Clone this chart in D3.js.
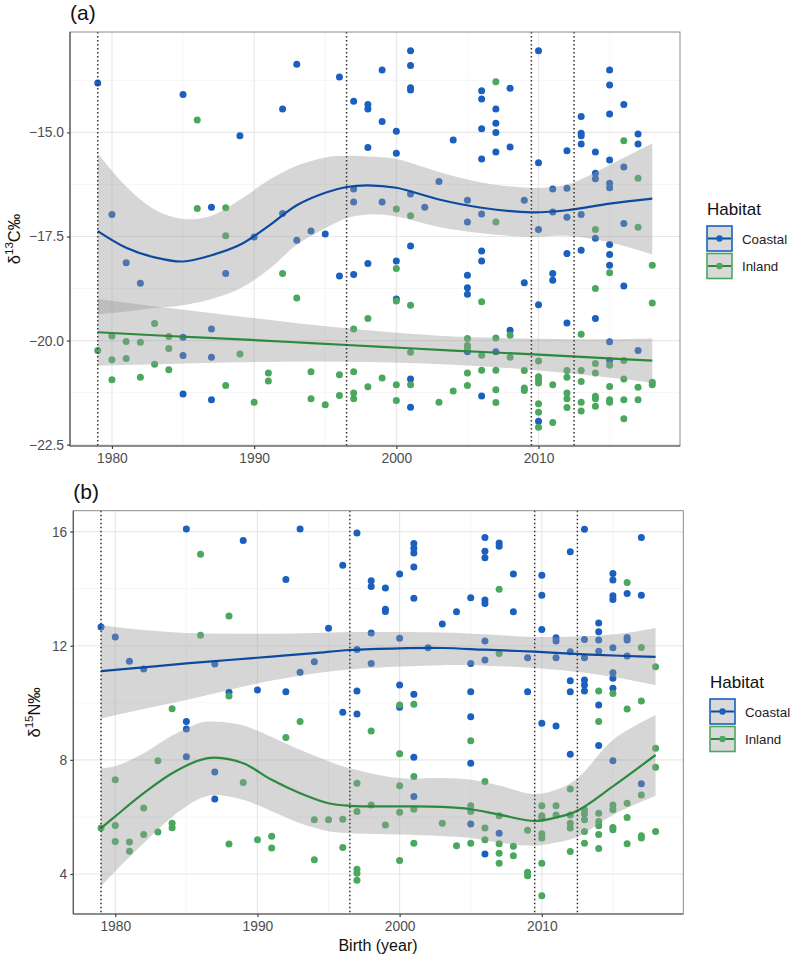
<!DOCTYPE html>
<html>
<head>
<meta charset="utf-8">
<title>Isotopes by birth year</title>
<script src="https://cdn.jsdelivr.net/npm/d3@7"></script>
<style>
  body { margin: 0; background: #fff; }
  svg { display: block; font-family: "Liberation Sans", Arial, sans-serif; }
</style>
</head>
<body>
<script>
// ---- data: [birth year, value] ----
var coastalC = [[1979,-13.81],[1980,-16.97],[1981,-18.13],[1982,-18.62],
  [1985,-14.09],[1985,-19.92],[1985,-20.36],[1985,-21.28],
  [1987,-16.80],[1987,-19.72],[1987,-20.40],[1987,-21.42],
  [1988,-18.39],[1989,-15.08],[1990,-17.51],[1992,-14.44],[1992,-16.95],
  [1993,-13.36],[1993,-17.59],[1994,-17.37],[1995,-17.44],[1996,-13.67],[1996,-18.45],
  [1997,-14.25],[1997,-16.36],[1997,-16.67],[1997,-18.41],
  [1998,-14.33],[1998,-14.44],[1998,-15.36],[1998,-18.15],
  [1999,-13.50],[1999,-14.74],[1999,-16.67],
  [2000,-14.97],[2000,-15.50],[2000,-18.09],[2000,-19.0],
  [2001,-13.04],[2001,-13.39],[2001,-13.93],[2001,-13.98],[2001,-16.48],[2001,-17.73],[2001,-20.92],[2001,-21.60],
  [2002,-16.80],[2003,-16.18],[2004,-15.18],
  [2005,-16.63],[2005,-17.15],[2005,-18.43],[2005,-18.73],[2005,-18.89],[2005,-20.27],
  [2006,-14.0],[2006,-14.2],[2006,-14.91],[2006,-15.64],[2006,-16.96],[2006,-17.85],[2006,-18.09],[2006,-21.33],
  [2007,-14.44],[2007,-14.78],[2007,-15.0],[2007,-15.47],[2007,-20.27],
  [2008,-13.94],[2008,-15.35],[2008,-19.75],[2009,-16.63],[2009,-18.61],
  [2010,-13.04],[2010,-15.73],[2010,-17.33],[2010,-19.14],[2010,-21.94],
  [2011,-16.36],[2011,-16.91],[2011,-18.39],[2011,-18.55],
  [2012,-15.44],[2012,-16.34],[2012,-17.04],[2012,-17.91],[2012,-19.58],
  [2013,-14.62],[2013,-15.02],[2013,-15.08],[2013,-15.28],[2013,-16.97],[2013,-17.83],
  [2014,-15.47],[2014,-15.98],[2014,-16.11],[2014,-17.54],[2014,-19.47],
  [2015,-13.50],[2015,-13.86],[2015,-14.56],[2015,-15.66],[2015,-16.22],[2015,-16.33],[2015,-17.69],
  [2015,-17.93],[2015,-18.19],[2015,-20.03],[2015,-20.48],
  [2016,-14.33],[2016,-15.83],[2016,-17.19],[2016,-18.69],
  [2017,-15.04],[2017,-15.28],[2017,-20.24]];

var inlandC = [[1979,-20.24],[1980,-19.89],[1980,-20.46],[1980,-20.94],[1981,-20.02],[1981,-20.43],
  [1982,-20.04],[1982,-20.88],[1983,-19.59],[1983,-20.57],[1984,-19.90],[1984,-20.19],[1984,-20.70],
  [1986,-14.70],[1986,-16.83],[1988,-16.81],[1988,-17.48],[1988,-21.08],[1989,-20.32],[1990,-21.48],
  [1991,-20.78],[1991,-20.97],[1992,-18.39],[1993,-18.98],[1994,-20.75],[1994,-21.40],[1995,-21.54],
  [1996,-20.82],[1996,-21.32],[1997,-19.72],[1997,-20.75],[1997,-21.26],[1997,-21.40],
  [1998,-19.47],[1998,-21.11],[1999,-20.90],
  [2000,-16.84],[2000,-18.27],[2000,-19.05],[2000,-21.06],[2000,-21.44],
  [2001,-17.0],[2001,-19.15],[2001,-20.28],[2001,-21.06],[2003,-21.48],[2004,-21.21],
  [2005,-19.95],[2005,-20.12],[2005,-20.19],[2005,-20.78],[2005,-21.08],
  [2006,-19.07],[2006,-20.35],[2006,-20.71],
  [2007,-13.78],[2007,-17.15],[2007,-19.94],[2007,-20.71],[2007,-21.18],[2007,-21.49],
  [2008,-19.87],[2008,-20.40],[2009,-20.72],[2009,-21.14],[2009,-21.20],
  [2010,-20.49],[2010,-20.87],[2010,-20.94],[2010,-21.02],[2010,-21.52],[2010,-21.72],[2010,-22.08],
  [2011,-21.06],[2011,-21.97],
  [2012,-20.72],[2012,-20.88],[2012,-21.26],[2012,-21.40],[2012,-21.61],
  [2013,-19.85],[2013,-20.72],[2013,-20.98],[2013,-21.48],[2013,-21.69],
  [2014,-17.33],[2014,-18.75],[2014,-20.55],[2014,-20.78],[2014,-21.34],[2014,-21.40],[2014,-21.58],
  [2015,-18.37],[2015,-20.59],[2015,-21.10],[2015,-21.42],[2015,-21.48],
  [2016,-15.20],[2016,-20.48],[2016,-20.92],[2016,-21.42],[2016,-21.88],
  [2017,-16.10],[2017,-17.28],[2017,-21.12],[2017,-21.42],
  [2018,-18.19],[2018,-19.10],[2018,-21.0],[2018,-21.06]];

var coastalN = [[1979,12.66],[1980,12.31],[1981,11.46],[1982,11.18],
  [1985,16.09],[1985,9.34],[1985,9.08],[1985,8.11],[1987,11.36],[1987,7.57],[1987,6.63],
  [1988,10.37],[1989,15.69],[1990,10.45],[1992,14.32],[1992,10.39],[1993,16.09],[1993,11.07],
  [1994,11.44],[1995,12.61],[1996,14.82],[1996,9.67],
  [1997,15.95],[1997,11.87],[1997,10.41],[1997,9.61],
  [1998,14.28],[1998,14.08],[1998,12.45],[1998,11.38],[1999,14.02],[1999,13.28],[1999,13.2],
  [2000,14.51],[2000,12.26],[2000,10.62],[2000,9.84],
  [2001,15.58],[2001,15.42],[2001,15.25],[2001,14.76],[2001,13.66],[2001,10.30],[2001,8.09],[2001,6.72],
  [2002,11.93],[2003,12.76],[2004,13.19],
  [2005,13.68],[2005,11.38],[2005,10.39],[2005,9.51],[2005,7.88],[2005,5.75],
  [2006,15.79],[2006,15.31],[2006,15.08],[2006,13.60],[2006,13.48],[2006,12.17],[2006,11.50],[2006,4.70],
  [2007,15.6],[2007,15.49],[2007,5.43],[2008,14.51],[2008,13.19],[2009,11.58],[2009,10.39],
  [2010,14.47],[2010,13.77],[2010,12.57],[2010,9.28],
  [2011,12.28],[2011,12.17],[2011,11.58],[2011,9.19],
  [2012,15.29],[2012,11.79],[2012,10.77],[2012,10.39],[2012,8.20],
  [2013,16.08],[2013,12.22],[2013,11.58],[2013,10.80],[2013,10.62],[2013,10.41],
  [2014,12.80],[2014,12.49],[2014,12.20],[2014,11.81],[2014,9.92],[2014,8.50],
  [2015,14.53],[2015,14.30],[2015,13.75],[2015,13.62],[2015,11.93],[2015,11.05],[2015,10.86],[2015,10.51],[2015,7.97],
  [2016,13.83],[2016,12.29],[2016,12.20],[2016,11.64],
  [2017,15.79],[2017,13.77],[2017,7.16]];

var inlandN = [[1979,5.61],[1980,7.30],[1980,5.70],[1980,5.14],[1981,5.12],[1981,4.80],
  [1982,6.31],[1982,5.38],[1983,7.97],[1983,5.47],[1984,9.79],[1984,5.78],[1984,5.62],
  [1986,15.21],[1986,12.37],[1988,13.04],[1988,10.24],[1988,5.05],[1989,7.21],[1990,5.20],
  [1991,5.32],[1991,4.91],[1992,8.78],[1993,9.34],[1994,5.90],[1994,4.50],[1995,5.90],
  [1996,5.92],[1996,4.93],[1997,7.18],[1997,6.19],[1997,4.17],[1997,4.03],[1997,3.78],
  [1998,9.01],[1998,6.42],[1999,5.72],
  [2000,9.92],[2000,8.21],[2000,7.09],[2000,6.16],[2000,4.47],
  [2001,9.95],[2001,7.42],[2001,6.27],[2001,5.08],[2003,5.78],[2004,4.99],
  [2005,8.67],[2005,6.39],[2005,6.19],[2005,5.08],[2006,7.24],[2006,5.61],[2006,5.20],
  [2007,13.98],[2007,11.73],[2007,6.04],[2007,5.06],[2007,4.73],[2007,4.38],
  [2008,4.97],[2008,4.64],[2009,5.53],[2009,4.06],[2009,3.94],
  [2010,6.39],[2010,6.04],[2010,5.96],[2010,5.41],[2010,5.26],[2010,4.38],[2010,3.24],
  [2011,6.39],[2011,6.07],[2012,6.98],[2012,6.07],[2012,5.78],[2012,5.61],[2012,4.79],
  [2013,6.25],[2013,6.11],[2013,5.90],[2013,5.49],[2013,5.08],
  [2014,10.41],[2014,9.34],[2014,6.13],[2014,5.84],[2014,5.69],[2014,5.38],[2014,4.89],
  [2015,10.33],[2015,6.42],[2015,6.25],[2015,5.63],[2015,5.55],
  [2016,14.22],[2016,9.78],[2016,6.48],[2016,5.98],[2016,5.06],
  [2017,11.94],[2017,10.06],[2017,6.77],[2017,5.34],[2017,5.26],
  [2018,11.26],[2018,8.41],[2018,7.74],[2018,5.49]];

// smoother fits (line, lower, upper)
var fitYearsCoastalC = [1979,1981,1983,1985,1987,1989,1991,1993,1995,1996.5,1998,2000,2003,2006,2009.5,2012,2015,2018];
var fitCoastalC  = [-17.37,-17.77,-18.0,-18.1,-17.95,-17.7,-17.25,-16.75,-16.45,-16.31,-16.27,-16.33,-16.61,-16.81,-16.92,-16.87,-16.71,-16.59];
var lowCoastalC  = [-19.37,-19.3,-19.22,-19.15,-19.0,-18.75,-18.3,-17.7,-17.3,-17.06,-16.97,-17.02,-17.27,-17.42,-17.51,-17.48,-17.64,-17.93];
var highCoastalC = [-15.5,-16.3,-16.85,-17.08,-17.0,-16.62,-16.15,-15.8,-15.6,-15.56,-15.58,-15.64,-15.95,-16.2,-16.33,-16.25,-15.78,-15.26];

var fitYearsInlandC = [1979,1984,1989,1994,1999,2004,2009,2014,2018];
var fitInlandC  = [-19.80,-19.89,-19.97,-20.06,-20.15,-20.24,-20.32,-20.41,-20.48];
var lowInlandC  = [-20.60,-20.56,-20.52,-20.50,-20.52,-20.58,-20.69,-20.85,-21.01];
var highInlandC = [-19.00,-19.22,-19.42,-19.62,-19.78,-19.90,-19.95,-19.97,-19.95];

var fitYearsCoastalN = [1979,1982,1985,1988,1991,1994,1996.5,2000,2003,2006,2009.5,2013,2016,2018];
var fitCoastalN  = [11.11,11.24,11.38,11.5,11.62,11.74,11.85,11.91,11.92,11.86,11.79,11.70,11.64,11.61];
var lowCoastalN  = [9.45,9.78,10.1,10.45,10.78,11.03,11.17,11.27,11.32,11.3,11.22,11.05,10.82,10.62];
var highCoastalN = [12.72,12.55,12.45,12.42,12.42,12.45,12.48,12.48,12.46,12.4,12.31,12.33,12.45,12.62];

var fitYearsInlandN = [1979,1980,1982,1984,1986,1987,1989,1991,1993,1995,1996.5,2000,2003,2005,2007,2009.5,2011,2012.5,2015,2018];
var fitInlandN  = [5.61,6.02,6.83,7.53,8.0,8.08,7.88,7.30,6.83,6.48,6.39,6.37,6.35,6.27,6.08,5.86,5.98,6.22,7.07,8.17];
var lowInlandN  = [3.57,4.1,5.08,6.0,6.65,6.77,6.6,6.2,5.78,5.5,5.43,5.38,5.33,5.26,5.1,4.99,5.1,5.3,6.07,6.74];
var highInlandN = [7.71,7.78,8.23,8.85,9.3,9.34,9.2,8.8,8.35,7.95,7.71,7.36,7.36,7.3,7.1,6.8,6.95,7.35,8.7,9.57];

var dividers = [1979, 1996.5, 2009.5, 2012.5];
var xTicks = [1980, 1990, 2000, 2010];
var yTicksC = [-22.5, -20, -17.5, -15];
var yTicksN = [4, 8, 12, 16];
var habitats = ["Coastal", "Inland"];

var pointCol = {Coastal: "#1b5fc1", Inland: "#4aa85e"};
var lineCol = {Coastal: "#0c4a9f", Inland: "#2b8a3e"};

var W = 795, H = 959;
var svg = d3.select("body").append("svg").attr("width", W).attr("height", H);

function zipFit(years, fit, lo, hi) {
  return years.map(function (y, i) { return {x: y, y: fit[i], lo: lo[i], hi: hi[i]}; });
}

function expand(ext) {
  var r = ext[1] - ext[0];
  return [ext[0] - 0.05 * r, ext[1] + 0.05 * r];
}

function drawPanel(o) {
  var all = o.coastal.concat(o.inland);
  var x = d3.scaleLinear()
      .domain(expand(d3.extent(all, function (d) { return d[0]; })))
      .range([o.left, o.right]);
  var y = d3.scaleLinear()
      .domain(expand(d3.extent(all, function (d) { return d[1]; })))
      .range([o.bottom, o.top]);

  var g = svg.append("g");

  // grid
  var xd = x.domain(), yd = y.domain();
  var xMinor = d3.range(1975, 2025, 10).filter(function (v) { return v > xd[0] && v < xd[1]; });
  var step = o.yTicks[1] - o.yTicks[0];
  var yMinor = d3.range(o.yTicks[0] - step / 2, yd[1], step).filter(function (v) { return v > yd[0]; });

  g.selectAll(".gxm").data(xMinor).enter().append("line")
    .attr("x1", x).attr("x2", x).attr("y1", o.top).attr("y2", o.bottom)
    .attr("stroke", "#f2f2f2").attr("stroke-width", 0.7);
  g.selectAll(".gym").data(yMinor).enter().append("line")
    .attr("y1", y).attr("y2", y).attr("x1", o.left).attr("x2", o.right)
    .attr("stroke", "#f2f2f2").attr("stroke-width", 0.7);
  g.selectAll(".gx").data(xTicks).enter().append("line")
    .attr("x1", x).attr("x2", x).attr("y1", o.top).attr("y2", o.bottom)
    .attr("stroke", "#e8e8e8").attr("stroke-width", 1.2);
  g.selectAll(".gy").data(o.yTicks).enter().append("line")
    .attr("y1", y).attr("y2", y).attr("x1", o.left).attr("x2", o.right)
    .attr("stroke", "#e8e8e8").attr("stroke-width", 1.2);

  // points
  [["Coastal", o.coastal], ["Inland", o.inland]].forEach(function (s) {
    g.append("g").selectAll("circle").data(s[1]).enter().append("circle")
      .attr("cx", function (d) { return x(d[0]); })
      .attr("cy", function (d) { return y(d[1]); })
      .attr("r", 3.5)
      .attr("fill", pointCol[s[0]]);
  });

  // smoothers
  var area = d3.area().curve(d3.curveCatmullRom)
      .x(function (d) { return x(d.x); })
      .y0(function (d) { return y(d.lo); })
      .y1(function (d) { return y(d.hi); });
  var line = d3.line().curve(d3.curveCatmullRom)
      .x(function (d) { return x(d.x); })
      .y(function (d) { return y(d.y); });

  o.fits.forEach(function (f) {
    g.append("path").attr("d", area(f.pts))
      .attr("fill", "#999999").attr("fill-opacity", 0.4);
  });
  o.fits.forEach(function (f) {
    g.append("path").attr("d", line(f.pts))
      .attr("fill", "none").attr("stroke", lineCol[f.name]).attr("stroke-width", 2.2);
  });

  // dividers
  g.selectAll(".vl").data(dividers).enter().append("line")
    .attr("x1", x).attr("x2", x).attr("y1", o.top).attr("y2", o.bottom)
    .attr("stroke", "#333").attr("stroke-width", 1.5)
    .attr("stroke-dasharray", "1.5,2.5");

  // border
  g.append("rect").attr("x", o.left).attr("y", o.top)
    .attr("width", o.right - o.left).attr("height", o.bottom - o.top)
    .attr("fill", "none").attr("stroke", "#8a8a8a").attr("stroke-width", 1);

  // axes
  var ax = g.append("g").attr("transform", "translate(0," + o.bottom + ")")
    .call(d3.axisBottom(x).tickValues(xTicks).tickFormat(d3.format("d")).tickSize(3).tickPadding(4));
  var ay = g.append("g").attr("transform", "translate(" + o.left + ",0)")
    .call(d3.axisLeft(y).tickValues(o.yTicks).tickFormat(d3.format(o.fmt)).tickSize(3).tickPadding(3));
  [ax, ay].forEach(function (a) {
    a.select(".domain").attr("stroke", "#555").attr("stroke-width", 1.2);
    a.selectAll(".tick line").attr("stroke", "#444").attr("stroke-width", 1.2);
    a.selectAll(".tick text").attr("fill", "#4d4d4d").attr("font-size", 13.8)
      .attr("font-family", "Liberation Sans, Arial, sans-serif");
  });
  ay.select(".domain").attr("d", "M0," + o.bottom + "V" + o.top);
  ax.select(".domain").attr("d", "M" + o.left + ",0H" + o.right);

  // tag
  svg.append("text").attr("x", o.left).attr("y", o.top - 12)
    .attr("font-size", 21).attr("fill", "#111").text(o.tag);

  // y title
  var yt = svg.append("text")
    .attr("transform", "translate(" + o.yTitleX + "," + ((o.top + o.bottom) / 2) + ") rotate(-90)")
    .attr("text-anchor", "middle").attr("font-size", 16.5).attr("fill", "#111");
  yt.append("tspan").text("\u03b4");
  yt.append("tspan").attr("dy", -7).attr("font-size", 11.5).text(o.iso);
  yt.append("tspan").attr("dy", 7).text(o.elem + "\u2030");

  // legend
  var lg = svg.append("g").attr("transform", "translate(" + o.legX + "," + o.legY + ")");
  lg.append("text").attr("x", 1).attr("y", 0).attr("font-size", 17).attr("fill", "#111").text("Habitat");
  habitats.forEach(function (h, i) {
    var k = lg.append("g").attr("transform", "translate(0," + (10 + i * 27.5) + ")");
    k.append("rect").attr("x", 1).attr("y", 1).attr("width", 25).attr("height", 25)
      .attr("fill", "#d9d9d9").attr("stroke", pointCol[h]).attr("stroke-width", 1.6);
    k.append("line").attr("x1", 2).attr("x2", 25).attr("y1", 13.5).attr("y2", 13.5)
      .attr("stroke", lineCol[h]).attr("stroke-width", 2);
    k.append("circle").attr("cx", 13.5).attr("cy", 13.5).attr("r", 3.2).attr("fill", pointCol[h]);
    k.append("text").attr("x", 36).attr("y", 18.5).attr("font-size", 13.3).attr("fill", "#222").text(h);
  });
}

drawPanel({
  left: 70, right: 680, top: 32, bottom: 446,
  coastal: coastalC, inland: inlandC,
  fits: [
    {name: "Coastal", pts: zipFit(fitYearsCoastalC, fitCoastalC, lowCoastalC, highCoastalC)},
    {name: "Inland", pts: zipFit(fitYearsInlandC, fitInlandC, lowInlandC, highInlandC)}
  ],
  yTicks: yTicksC, fmt: ".1f", tag: "(a)",
  iso: "13", elem: "C", yTitleX: 20,
  legX: 706, legY: 215
});

drawPanel({
  left: 73.3, right: 683.3, top: 510.7, bottom: 914,
  coastal: coastalN, inland: inlandN,
  fits: [
    {name: "Coastal", pts: zipFit(fitYearsCoastalN, fitCoastalN, lowCoastalN, highCoastalN)},
    {name: "Inland", pts: zipFit(fitYearsInlandN, fitInlandN, lowInlandN, highInlandN)}
  ],
  yTicks: yTicksN, fmt: "d", tag: "(b)",
  iso: "15", elem: "N", yTitleX: 40,
  legX: 709, legY: 688
});

svg.append("text").attr("x", 378).attr("y", 951).attr("text-anchor", "middle")
  .attr("font-size", 16).attr("fill", "#111").text("Birth (year)");
</script>
</body>
</html>
